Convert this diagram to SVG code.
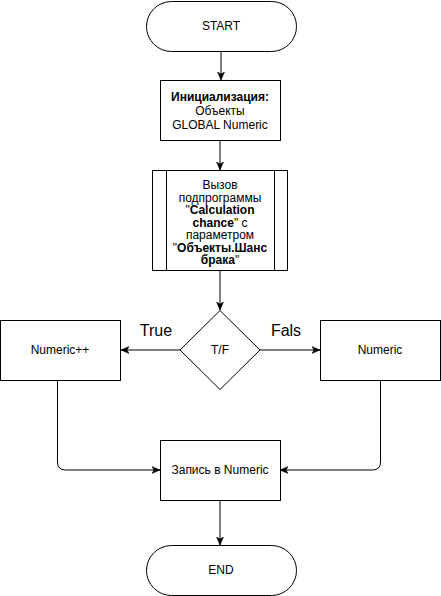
<svg xmlns="http://www.w3.org/2000/svg" width="441" height="596" viewBox="0 0 441 596">
<style>
.s{fill:#fff;stroke:#000;stroke-width:1}
.t{font-family:"Liberation Sans",Arial,sans-serif;font-size:12px;fill:#000;text-anchor:middle}
.b{font-weight:bold}
.lbl{font-family:"Liberation Sans",Arial,sans-serif;font-size:16px;fill:#000;text-anchor:middle}
.c{fill:none;stroke:#000;stroke-width:1}
</style>
<defs>
<marker id="a" markerUnits="userSpaceOnUse" markerWidth="10" markerHeight="10" refX="8" refY="4" orient="auto">
<path d="M0,0.5 L8,4 L0,7.5 L2,4 Z" fill="#000" stroke="#000" stroke-width="0.5"/>
</marker>
</defs>
<rect width="441" height="596" fill="#fff"/>
<g id="connectors">
<line class="c" x1="221" y1="51" x2="221" y2="80" marker-end="url(#a)"/>
<line class="c" x1="220" y1="140" x2="220" y2="170" marker-end="url(#a)"/>
<line class="c" x1="220" y1="270" x2="220" y2="310" marker-end="url(#a)"/>
<line class="c" x1="180" y1="350" x2="121" y2="350" marker-end="url(#a)"/>
<line class="c" x1="260" y1="350" x2="320" y2="350" marker-end="url(#a)"/>
<path class="c" d="M57.5,380 L57.5,462 Q57.5,470 65.5,470 L160,470" marker-end="url(#a)"/>
<path class="c" d="M380.5,380 L380.5,462 Q380.5,470 372.5,470 L280,470" marker-end="url(#a)"/>
<line class="c" x1="220" y1="500" x2="220" y2="545" marker-end="url(#a)"/>
<text class="lbl" x="156" y="336">True</text>
<text class="lbl" x="286" y="336">Fals</text>
</g>
<g id="start">
<rect class="s" x="146.5" y="1.5" width="150" height="50" rx="25" ry="25"/>
<text class="t" x="221" y="30">START</text>
</g>
<g id="init">
<rect class="s" x="160.5" y="80.5" width="120" height="60"/>
<text class="t b" x="220" y="101">Инициализация:</text>
<text class="t" x="220" y="115">Объекты</text>
<text class="t" x="220" y="129">GLOBAL Numeric</text>
</g>
<g id="subprogram">
<rect class="s" x="152.5" y="170.5" width="135" height="100"/>
<line class="c" x1="166.5" y1="170.5" x2="166.5" y2="270.5"/>
<line class="c" x1="274.5" y1="170.5" x2="274.5" y2="270.5"/>
<text class="t" x="220" y="189">Вызов</text>
<text class="t" x="220" y="201.5">подпрограммы</text>
<text class="t" x="220" y="214">"<tspan class="b">Calculation</tspan></text>
<text class="t" x="220" y="226.5"><tspan class="b">chance</tspan>" с</text>
<text class="t" x="220" y="239">параметром</text>
<text class="t" x="220" y="251.5">"<tspan class="b">Объекты.Шанс</tspan></text>
<text class="t" x="220" y="264"><tspan class="b">брака</tspan>"</text>
</g>
<g id="decision">
<polygon class="s" points="220,310.5 260,350 220,389.5 180,350"/>
<text class="t" x="220" y="354">T/F</text>
</g>
<g id="numericpp">
<rect class="s" x="0.5" y="320.5" width="120" height="60"/>
<text class="t" x="60" y="354">Numeric++</text>
</g>
<g id="numeric">
<rect class="s" x="320.5" y="320.5" width="120" height="60"/>
<text class="t" x="380" y="354">Numeric</text>
</g>
<g id="write">
<rect class="s" x="160.5" y="440.5" width="120" height="60"/>
<text class="t" x="220" y="474">Запись в Numeric</text>
</g>
<g id="end">
<rect class="s" x="146.5" y="545.5" width="150" height="50" rx="25" ry="25"/>
<text class="t" x="221" y="574">END</text>
</g>
</svg>
